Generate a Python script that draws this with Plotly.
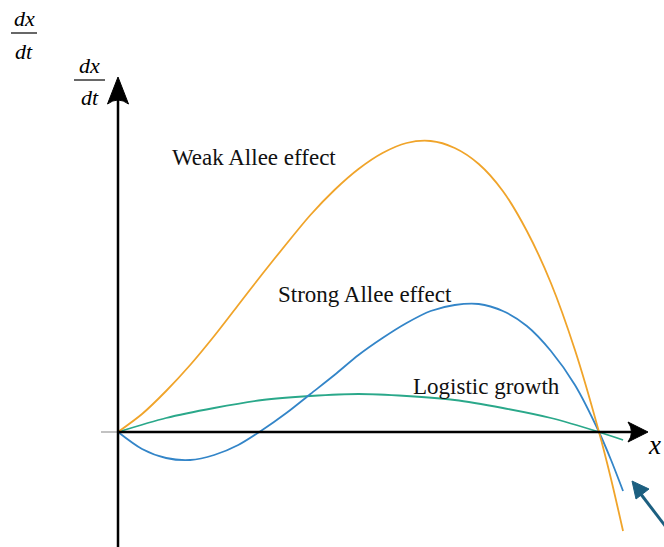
import plotly.graph_objects as go

# ---- data (x in units of carrying capacity K, y in plot units) ----
logistic_x = [0, 0.1, 0.2, 0.3, 0.4, 0.5, 0.6, 0.7, 0.8, 0.9, 1.0, 1.05]
logistic_y = [0, 14, 24, 32, 36, 38, 36, 32, 24, 14, 0, -8]

strong_x = [0, 0.05, 0.1, 0.15, 0.2, 0.25, 0.3, 0.35, 0.4, 0.45, 0.5, 0.55, 0.6, 0.65, 0.7, 0.75,
            0.8, 0.85, 0.9, 0.95, 1.0, 1.025, 1.05]
strong_y = [0, -17, -26, -28, -23, -13, 2, 19, 38, 57, 77, 94, 109, 121, 127, 128,
            121, 106, 81, 47, 0, -28, -59]

weak_x = [0, 0.05, 0.1, 0.15, 0.2, 0.25, 0.3, 0.35, 0.4, 0.45, 0.5, 0.55, 0.6, 0.65, 0.7, 0.75,
          0.8, 0.85, 0.9, 0.95, 1.0, 1.025, 1.05]
weak_y = [0, 18, 41, 67, 96, 127, 158, 188, 217, 242, 263, 279, 289, 291, 284, 268,
          241, 201, 149, 82, 0, -47, -99]

labels = ["Weak Allee effect", "Strong Allee effect", "Logistic growth"]

ORANGE = "#F0A42A"
BLUE = "#3385C8"
GREEN = "#2AA88A"

W, H = 664, 547
X0, Y0, SX = 118, 432, 481  # origin pixel & x scale


def dx(px):
    return (px - X0) / SX


def dy(py):
    return Y0 - py


def fx(px):
    return px / W


def fy(py):
    return 1 - py / H


fig = go.Figure()
for xs, ys, c in [(logistic_x, logistic_y, GREEN), (strong_x, strong_y, BLUE), (weak_x, weak_y, ORANGE)]:
    fig.add_trace(go.Scatter(x=xs, y=ys, mode="lines", line=dict(color=c, width=1.8, shape="spline", smoothing=0.8),
                             showlegend=False, hoverinfo="skip"))

shapes = []
# gray stub left of origin
shapes.append(dict(type="line", x0=dx(101), x1=dx(118), y0=0, y1=0, line=dict(color="#999999", width=1.2)))
# y axis
shapes.append(dict(type="line", x0=0, x1=0, y0=dy(547), y1=dy(98), line=dict(color="black", width=2.5)))
shapes.append(dict(type="path",
                   path=f"M {dx(118)} {dy(77)} L {dx(107.5)} {dy(104)} Q {dx(118)} {dy(96)} {dx(128.5)} {dy(104)} Z",
                   fillcolor="black", line=dict(color="black", width=1)))
# x axis
shapes.append(dict(type="line", x0=0, x1=dx(638), y0=0, y1=0, line=dict(color="black", width=2.5)))
shapes.append(dict(type="path",
                   path=f"M {dx(648)} {dy(432)} L {dx(628)} {dy(422)} Q {dx(635)} {dy(432)} {dx(628)} {dy(442)} Z",
                   fillcolor="black", line=dict(color="black", width=1)))
# blue pointer arrow (bottom right)
shapes.append(dict(type="line", x0=dx(666), y0=dy(527), x1=dx(640), y1=dy(493),
                   line=dict(color="#1C5F80", width=3)))
shapes.append(dict(type="path",
                   path=f"M {dx(632)} {dy(481)} L {dx(649)} {dy(489)} L {dx(636)} {dy(499)} Z",
                   fillcolor="#1C5F80", line=dict(color="#1C5F80", width=1)))
# fraction bars
shapes.append(dict(type="line", xref="paper", yref="paper", x0=fx(11), x1=fx(37), y0=fy(33), y1=fy(33),
                   line=dict(color="black", width=1.2)))
shapes.append(dict(type="line", xref="paper", yref="paper", x0=fx(74), x1=fx(105), y0=fy(80), y1=fy(80),
                   line=dict(color="black", width=1.2)))

ann = []
serif = "Liberation Serif"
for txt, cx, cy in [(labels[0], 254, 157), (labels[1], 365, 294), (labels[2], 486, 386)]:
    ann.append(dict(text=txt, x=fx(cx), y=fy(cy), xref="paper", yref="paper", showarrow=False,
                    xanchor="center", yanchor="middle", font=dict(family=serif, size=23, color="#111111")))
for txt, cx, cy, sz in [("<i>dx</i>", 24, 19, 22), ("<i>dt</i>", 24, 51, 22),
                        ("<i>dx</i>", 89.5, 66, 22), ("<i>dt</i>", 89.5, 97, 22),
                        ("<i>x</i>", 654, 445, 27)]:
    ann.append(dict(text=txt, x=fx(cx), y=fy(cy), xref="paper", yref="paper", showarrow=False,
                    xanchor="center", yanchor="middle", font=dict(family=serif, size=sz, color="black")))

fig.update_layout(
    width=W, height=H, autosize=False,
    margin=dict(l=0, r=0, t=0, b=0, pad=0),
    paper_bgcolor="white", plot_bgcolor="white",
    xaxis=dict(range=[dx(0), dx(W)], visible=False, fixedrange=True),
    yaxis=dict(range=[dy(H), dy(0)], visible=False, fixedrange=True),
    shapes=shapes, annotations=ann, showlegend=False,
)

fig.write_html("out.html", config={"displayModeBar": False},
               post_script="document.body.style.margin='0';document.body.style.overflow='hidden';")
